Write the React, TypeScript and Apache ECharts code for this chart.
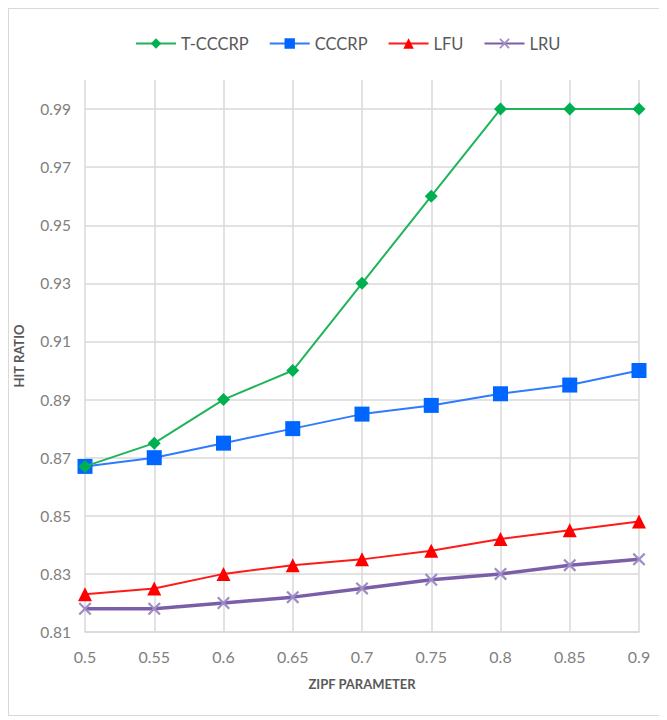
import React, { useEffect, useRef } from "react";
import * as echarts from "echarts";

const categories = ["0.5", "0.55", "0.6", "0.65", "0.7", "0.75", "0.8", "0.85", "0.9"];
const tCccrp = [0.867, 0.875, 0.89, 0.9, 0.93, 0.96, 0.99, 0.99, 0.99];
const cccrp = [0.867, 0.87, 0.875, 0.88, 0.885, 0.888, 0.892, 0.895, 0.9];
const lfu = [0.823, 0.825, 0.83, 0.833, 0.835, 0.838, 0.842, 0.845, 0.848];
const lru = [0.818, 0.818, 0.82, 0.822, 0.825, 0.828, 0.83, 0.833, 0.835];

const FONT = "Lato, 'Liberation Sans', sans-serif";
const CROSS =
  "path://M0,1.2 L1.2,0 L5,3.8 L8.8,0 L10,1.2 L6.2,5 L10,8.8 L8.8,10 L5,6.2 L1.2,10 L0,8.8 L3.8,5 Z";

export default function App() {
  const ref = useRef<HTMLDivElement>(null);
  useEffect(() => {
    if (!ref.current) return;
    const chart = echarts.init(ref.current, null, { renderer: "svg" });
    chart.setOption({
      animation: false,
      textStyle: { fontFamily: FONT },
      legend: {
        top: 21,
        left: 121,
        itemWidth: 40,
        itemHeight: 13,
        itemGap: 20,
        textStyle: { color: "#595959", fontSize: 16.5, fontFamily: FONT },
        data: ["T-CCCRP", "CCCRP", "LFU", "LRU"],
      },
      grid: { left: 76, right: 21, top: 71, bottom: 83, outerBoundsMode: "none", containLabel: false },
      xAxis: {
        type: "category",
        data: categories,
        boundaryGap: false,
        name: "ZIPF PARAMETER",
        nameLocation: "middle",
        nameGap: 45,
        nameTextStyle: { color: "#595959", fontSize: 13, fontWeight: "bold", fontFamily: FONT },
        axisLine: { lineStyle: { color: "#d9d9d9", width: 1.5 } },
        axisTick: { show: false },
        axisLabel: { color: "#7f7f7f", fontSize: 16, margin: 16, fontFamily: FONT },
        splitLine: { show: true, lineStyle: { color: "#d9d9d9", width: 1.5 } },
      },
      yAxis: {
        type: "value",
        min: 0.81,
        max: 1.0,
        interval: 0.02,
        name: "HIT RATIO",
        nameLocation: "middle",
        nameGap: 60,
        nameTextStyle: { color: "#595959", fontSize: 13, fontWeight: "bold", fontFamily: FONT },
        axisLine: { show: false },
        axisTick: { show: false },
        axisLabel: {
          color: "#7f7f7f",
          fontSize: 15.5,
          margin: 14,
          fontFamily: FONT,
          showMaxLabel: false,
          formatter: (v: number) => v.toFixed(2),
        },
        splitLine: {
          show: true,
          showMaxLine: false,
          lineStyle: { color: "#d9d9d9", width: 1.5 },
        },
      },
      series: [
        {
          name: "T-CCCRP",
          type: "line",
          data: tCccrp,
          symbol: "diamond",
          symbolSize: 13,
          itemStyle: { color: "#00b050" },
          lineStyle: { color: "#1fb45a", width: 2 },
          z: 5,
        },
        {
          name: "CCCRP",
          type: "line",
          data: cccrp,
          symbol: "rect",
          symbolSize: 15,
          itemStyle: { color: "#0066ff" },
          lineStyle: { color: "#2f7bff", width: 2 },
          z: 4,
        },
        {
          name: "LFU",
          type: "line",
          data: lfu,
          symbol: "triangle",
          symbolSize: 14,
          itemStyle: { color: "#ff0000" },
          lineStyle: { color: "#ff1a1a", width: 2 },
          z: 3,
        },
        {
          name: "LRU",
          type: "line",
          data: lru,
          symbol: CROSS,
          symbolSize: 13,
          itemStyle: { color: "#9f8cc6" },
          lineStyle: { color: "#7a5ea8", width: 3.5 },
          z: 2,
        },
      ],
    });
    return () => chart.dispose();
  }, []);
  return (
    <div
      ref={ref}
      style={{
        width: 653,
        height: 708,
        boxSizing: "border-box",
        border: "1px solid #d9d9d9",
      }}
    />
  );
}
